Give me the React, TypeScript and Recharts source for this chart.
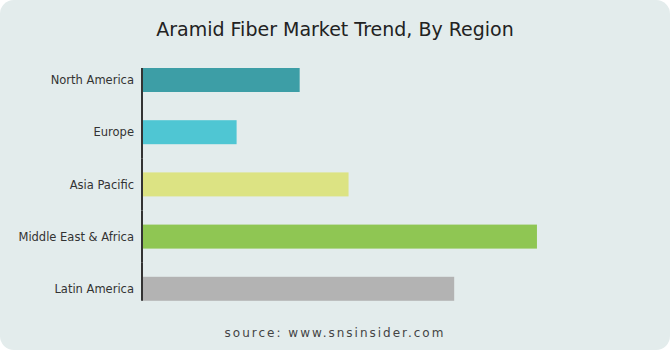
import { BarChart, Bar, XAxis, YAxis, Cell } from 'recharts'

const regions = ['North America', 'Europe', 'Asia Pacific', 'Middle East & Africa', 'Latin America']
const values = [20, 12, 26.2, 50.1, 39.6]
const colors = ['#3d9ea6', '#4fc6d3', '#dce383', '#8fc653', '#b3b3b3']

const W = 670
const H = 350
const MARGIN = { top: 54, right: 55, bottom: 35, left: 0 }
const BAR_SIZE = 24
const FONT = '"Century Gothic", "DejaVu Sans", sans-serif'

const data = regions.map((region, i) => ({ region, value: values[i] }))

// bar plus the piece of the y axis line that sits next to it, so the axis
// only runs from the first bar's top to the last bar's bottom
const stride = (H - MARGIN.top - MARGIN.bottom) / regions.length
const halfGap = (stride - BAR_SIZE) / 2

function BarWithAxis(props: any) {
  const { x, y, width, height, fill, index } = props
  const last = regions.length - 1
  return (
    <g>
      <rect x={x} y={y} width={width} height={height} fill={fill} />
      <line
        x1={x}
        x2={x}
        y1={index === 0 ? y : y - halfGap}
        y2={index === last ? y + height : y + height + halfGap}
        stroke="#333"
        strokeWidth={2}
      />
    </g>
  )
}

export default function App() {
  return (
    <div
      style={{
        position: 'absolute',
        left: 0,
        top: 0,
        width: W,
        height: H,
        background: '#e3ecec',
        borderRadius: 14,
        fontFamily: FONT,
      }}
    >
      <div
        style={{
          position: 'absolute',
          top: 18,
          width: '100%',
          textAlign: 'center',
          fontSize: 19,
          color: '#222',
        }}
      >
        Aramid Fiber Market Trend, By Region
      </div>
      <div style={{ position: 'absolute', left: 0, top: 0 }}>
        <BarChart width={W} height={H} data={data} layout="vertical" margin={MARGIN}>
          <XAxis type="number" domain={[0, 60]} hide />
          <YAxis
            type="category"
            dataKey="region"
            width={142}
            axisLine={false}
            tickLine={false}
            tick={{ fill: '#333', fontSize: 11.5, fontFamily: FONT }}
          />
          <Bar dataKey="value" barSize={BAR_SIZE} shape={BarWithAxis} isAnimationActive={false}>
            {data.map((d, i) => (
              <Cell key={d.region} fill={colors[i]} />
            ))}
          </Bar>
        </BarChart>
      </div>
      <div
        style={{
          position: 'absolute',
          top: 326,
          width: '100%',
          textAlign: 'center',
          fontSize: 12,
          letterSpacing: 2,
          color: '#444',
        }}
      >
        source: www.snsinsider.com
      </div>
    </div>
  )
}
